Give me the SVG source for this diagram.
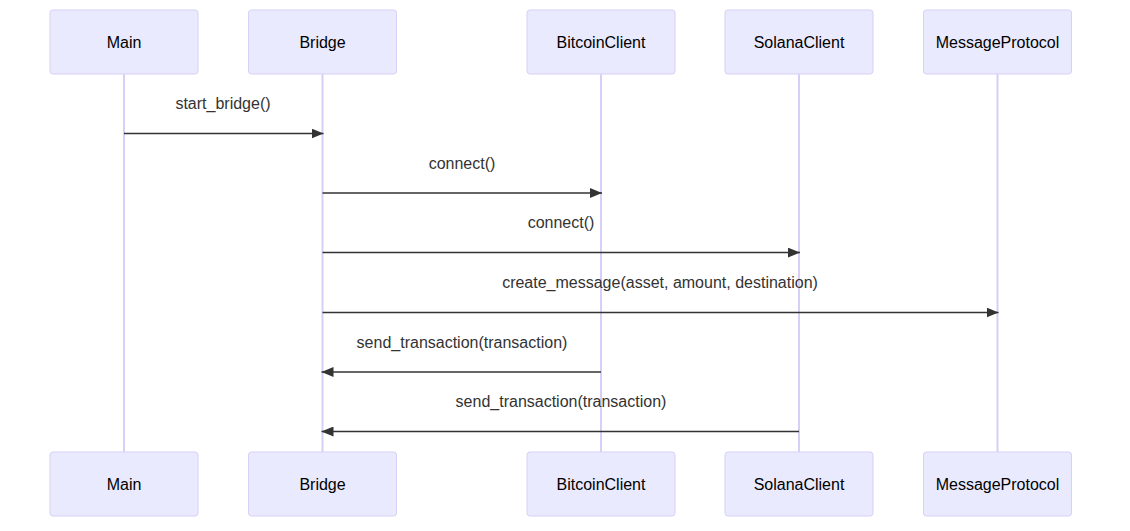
<svg xmlns="http://www.w3.org/2000/svg" width="1130" height="531" viewBox="0 0 1130 531">
<style>
.actor{fill:#eaeaff;stroke:#d7cff5;stroke-width:1}
.atext{font-family:"Liberation Sans",Arial,sans-serif;font-size:16px;fill:#000;text-anchor:middle;dominant-baseline:central}
.life{stroke:#d7cff5;stroke-width:2}
.msg{stroke:#333;stroke-width:1.5;fill:none;marker-end:url(#arr)}
.mtext{font-family:"Liberation Sans",Arial,sans-serif;font-size:16px;fill:#333;text-anchor:middle}
</style>
<defs>
<marker id="arr" viewBox="0 0 12 10" refX="12" refY="5" markerWidth="12" markerHeight="10" markerUnits="userSpaceOnUse" orient="auto">
<path d="M0,0 L12,5 L0,10 z" fill="#333"/>
</marker>
</defs>
<rect width="1130" height="531" fill="#fff"/>
<g id="lifelines">
<line class="life" x1="124" y1="74" x2="124" y2="452"/>
<line class="life" x1="322.5" y1="74" x2="322.5" y2="452"/>
<line class="life" x1="601" y1="74" x2="601" y2="452"/>
<line class="life" x1="799" y1="74" x2="799" y2="452"/>
<line class="life" x1="997.5" y1="74" x2="997.5" y2="452"/>
</g>
<g id="Main">
<rect class="actor" x="50" y="10" width="148" height="64" rx="3"/>
<text class="atext" x="124" y="42">Main</text>
<rect class="actor" x="50" y="452" width="148" height="64" rx="3"/>
<text class="atext" x="124" y="484">Main</text>
</g>
<g id="Bridge">
<rect class="actor" x="248.5" y="10" width="148" height="64" rx="3"/>
<text class="atext" x="322.5" y="42">Bridge</text>
<rect class="actor" x="248.5" y="452" width="148" height="64" rx="3"/>
<text class="atext" x="322.5" y="484">Bridge</text>
</g>
<g id="BitcoinClient">
<rect class="actor" x="527" y="10" width="148" height="64" rx="3"/>
<text class="atext" x="601" y="42">BitcoinClient</text>
<rect class="actor" x="527" y="452" width="148" height="64" rx="3"/>
<text class="atext" x="601" y="484">BitcoinClient</text>
</g>
<g id="SolanaClient">
<rect class="actor" x="725" y="10" width="148" height="64" rx="3"/>
<text class="atext" x="799" y="42">SolanaClient</text>
<rect class="actor" x="725" y="452" width="148" height="64" rx="3"/>
<text class="atext" x="799" y="484">SolanaClient</text>
</g>
<g id="MessageProtocol">
<rect class="actor" x="923.5" y="10" width="148" height="64" rx="3"/>
<text class="atext" x="997.5" y="42">MessageProtocol</text>
<rect class="actor" x="923.5" y="452" width="148" height="64" rx="3"/>
<text class="atext" x="997.5" y="484">MessageProtocol</text>
</g>
<g id="connectors">
<line class="msg" x1="124" y1="133.5" x2="323.5" y2="133.5"/>
<text class="mtext" x="223" y="109">start_bridge()</text>
<line class="msg" x1="322.5" y1="193" x2="602" y2="193"/>
<text class="mtext" x="462" y="169">connect()</text>
<line class="msg" x1="322.5" y1="252.6" x2="800" y2="252.6"/>
<text class="mtext" x="561" y="228">connect()</text>
<line class="msg" x1="322.5" y1="312.5" x2="998.5" y2="312.5"/>
<text class="mtext" x="660" y="288">create_message(asset, amount, destination)</text>
<line class="msg" x1="601" y1="372" x2="321.5" y2="372"/>
<text class="mtext" x="462" y="348">send_transaction(transaction)</text>
<line class="msg" x1="799" y1="431.5" x2="321.5" y2="431.5"/>
<text class="mtext" x="561" y="407">send_transaction(transaction)</text>
</g>
</svg>
